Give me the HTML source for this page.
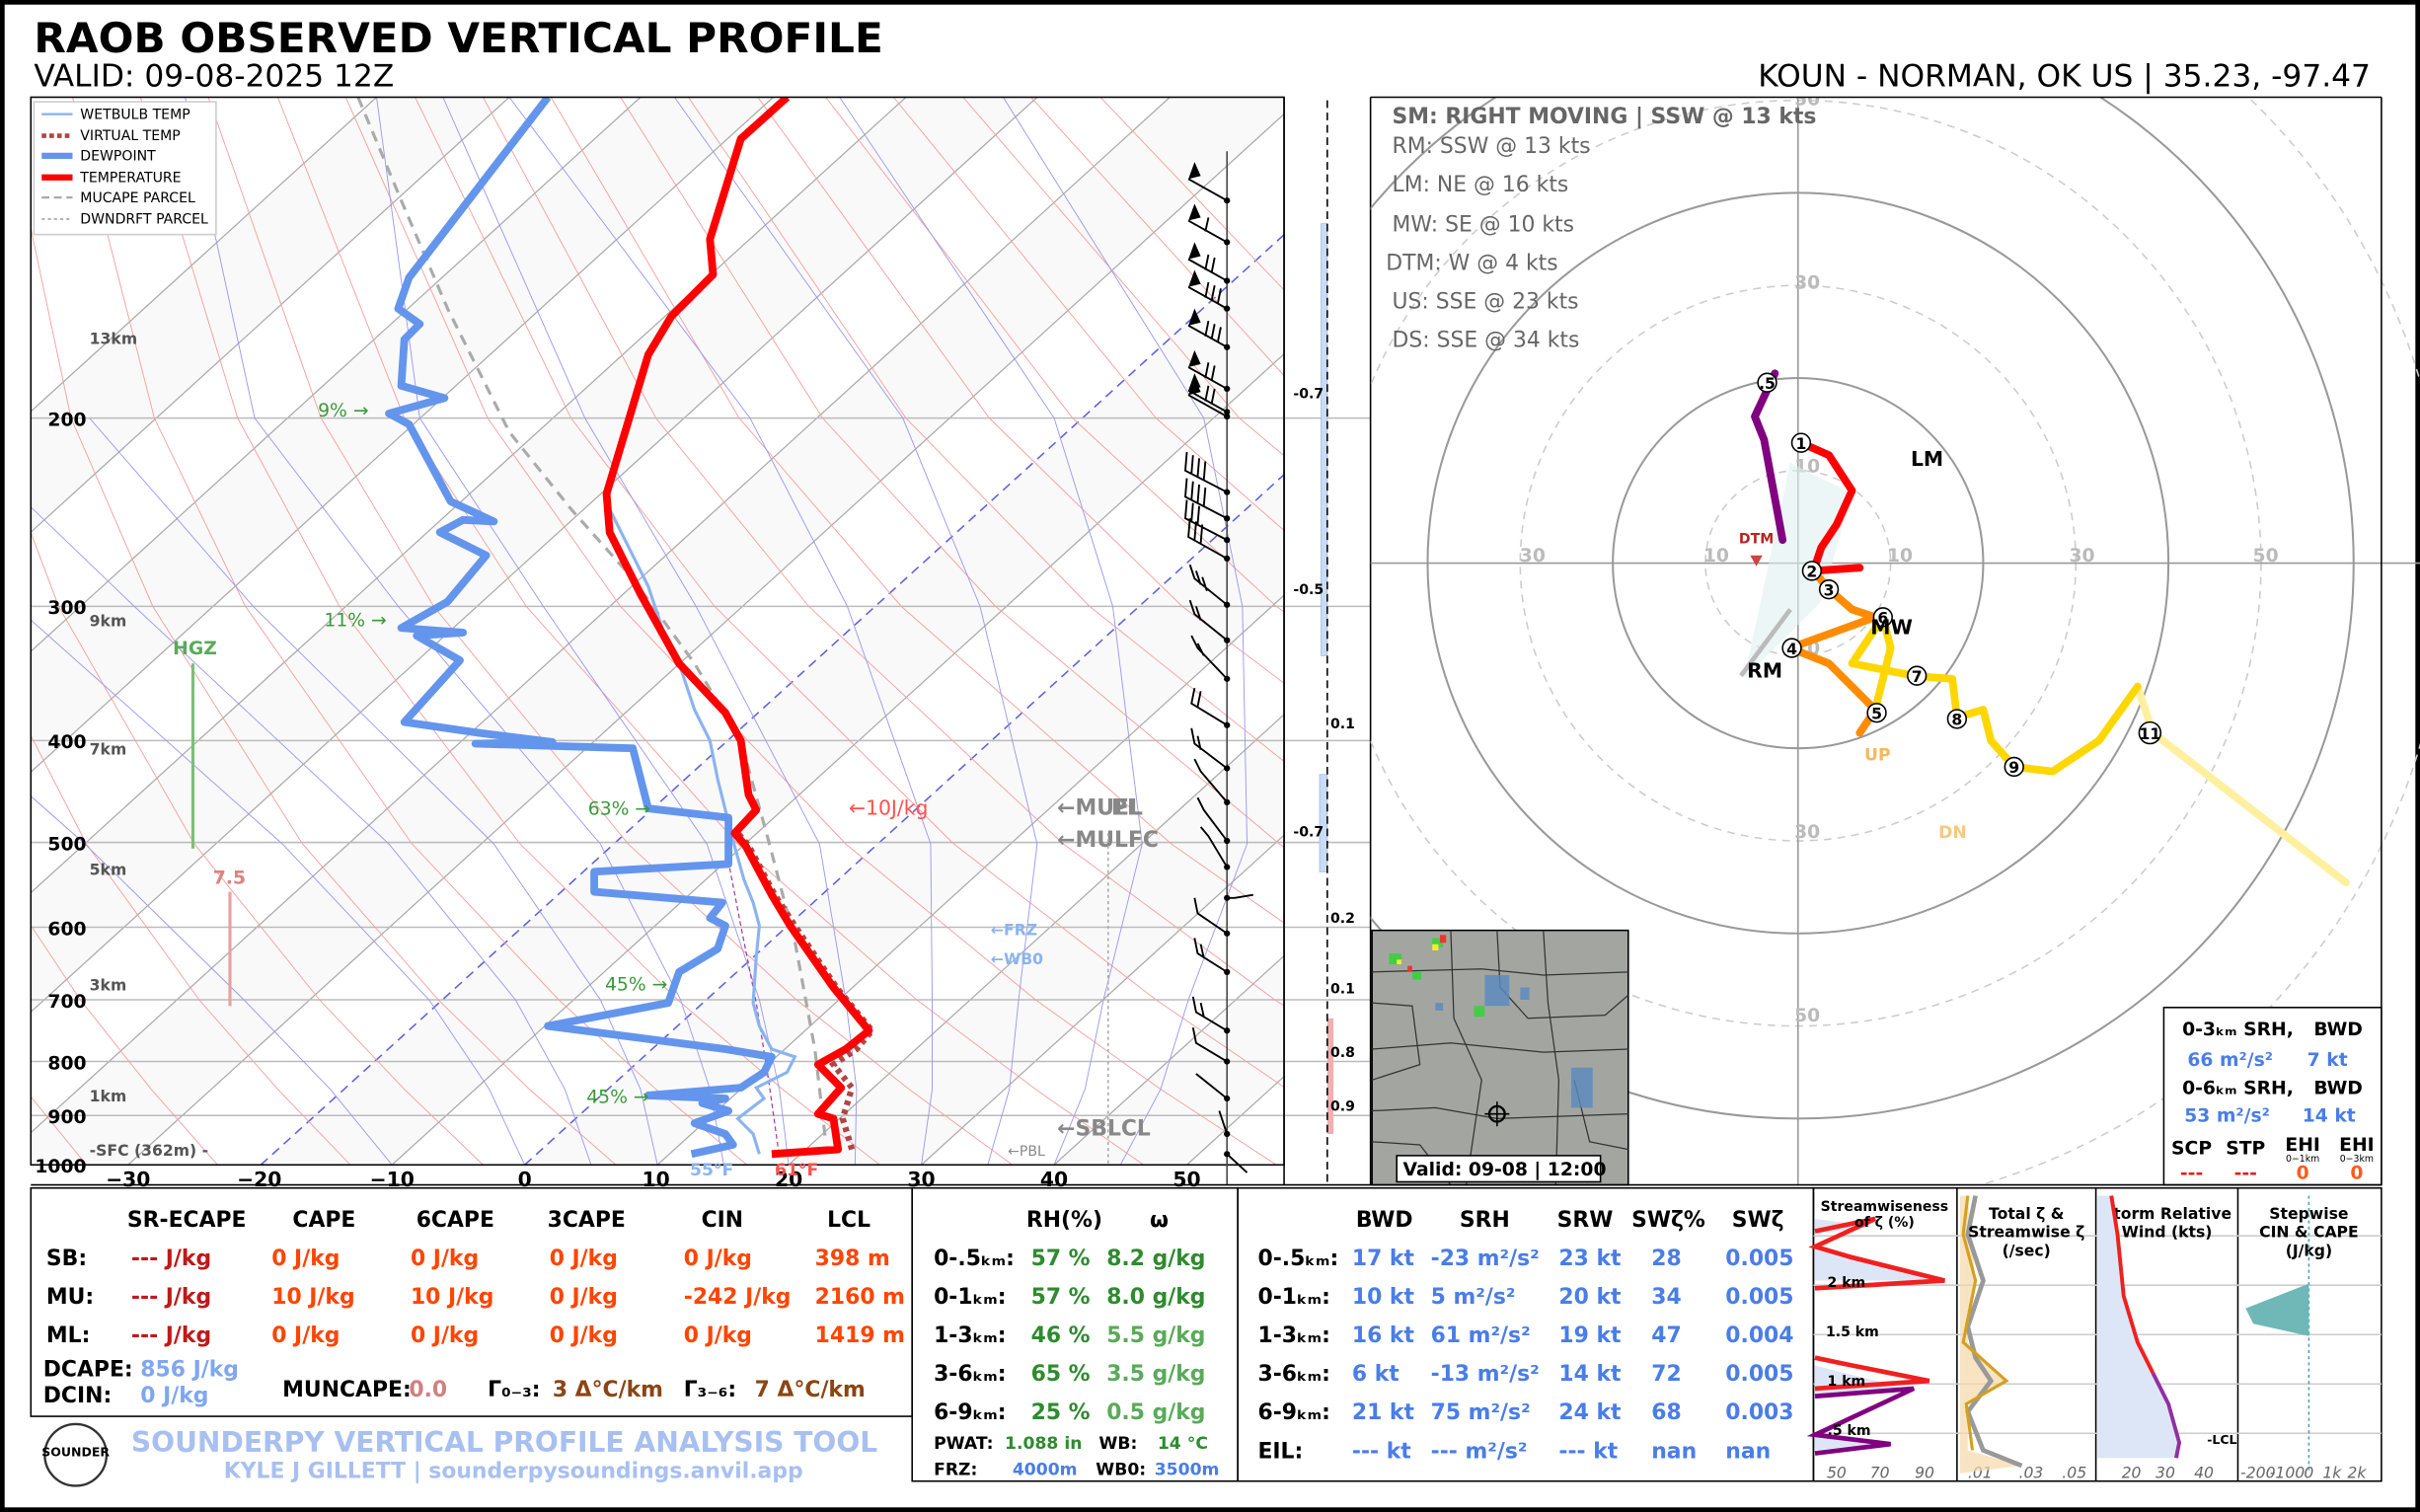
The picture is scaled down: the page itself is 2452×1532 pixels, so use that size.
<!DOCTYPE html>
<html><head><meta charset="utf-8"><style>
html,body{margin:0;padding:0;background:#fff}
svg{display:block}
text{font-family:"DejaVu Sans","Liberation Sans",sans-serif}
</style></head><body>
<svg width="2452" height="1532" viewBox="0 0 1568 980" preserveAspectRatio="none" xmlns="http://www.w3.org/2000/svg">
<rect x="0" y="0" width="1568" height="980" fill="#fff"/>
<rect x="1.5" y="1.5" width="1565" height="977" fill="none" stroke="#000" stroke-width="3"/>
<text x="22" y="34" font-size="27" font-weight="bold">RAOB OBSERVED VERTICAL PROFILE</text>
<text x="22" y="56" font-size="20">VALID: 09-08-2025 12Z</text>
<text x="1536" y="56" font-size="20" text-anchor="end">KOUN - NORMAN, OK US | 35.23, -97.47</text>

<defs>
<clipPath id="cs"><rect x="20" y="63" width="812" height="692"/></clipPath>
<clipPath id="ch"><rect x="888" y="63" width="680" height="705"/></clipPath>
</defs>
<g clip-path="url(#cs)">
<g fill="#f9f9f9">
<polygon points="-517,755 -431,755 330,63 244,63"/>
<polygon points="-346,755 -260,755 501,63 415,63"/>
<polygon points="-174,755 -89,755 672,63 587,63"/>
<polygon points="-3,755 83,755 844,63 758,63"/>
<polygon points="169,755 254,755 1015,63 930,63"/>
<polygon points="340,755 426,755 1187,63 1101,63"/>
<polygon points="511,755 597,755 1358,63 1272,63"/>
<polygon points="683,755 769,755 1530,63 1444,63"/>
</g>
<g stroke="#aaa" stroke-width="0.8">
<line x1="-517" y1="755" x2="244" y2="63"/><line x1="-431" y1="755" x2="330" y2="63"/><line x1="-346" y1="755" x2="415" y2="63"/><line x1="-260" y1="755" x2="501" y2="63"/><line x1="-174" y1="755" x2="587" y2="63"/><line x1="-89" y1="755" x2="672" y2="63"/><line x1="-3" y1="755" x2="758" y2="63"/><line x1="83" y1="755" x2="844" y2="63"/><line x1="254" y1="755" x2="1015" y2="63"/><line x1="426" y1="755" x2="1187" y2="63"/><line x1="511" y1="755" x2="1272" y2="63"/><line x1="597" y1="755" x2="1358" y2="63"/><line x1="683" y1="755" x2="1444" y2="63"/><line x1="769" y1="755" x2="1530" y2="63"/>
</g>
<g stroke="#6060e0" stroke-width="1" stroke-dasharray="6,4">
<line x1="169" y1="755" x2="930" y2="63"/><line x1="340" y1="755" x2="1101" y2="63"/>
</g>
<g stroke="#bbb" stroke-width="1">
<line x1="20" x2="832" y1="271" y2="271"/><line x1="20" x2="832" y1="393" y2="393"/><line x1="20" x2="832" y1="480" y2="480"/><line x1="20" x2="832" y1="546" y2="546"/><line x1="20" x2="832" y1="601" y2="601"/><line x1="20" x2="832" y1="648" y2="648"/><line x1="20" x2="832" y1="688" y2="688"/><line x1="20" x2="832" y1="723" y2="723"/>
</g>
<g fill="none" stroke="#f4a0a0" stroke-width="0.6">
<polyline points="56,755 16,706 -25,648 -85,547 -144,393 -171,271 -175,63"/>
<polyline points="141,755 98,706 52,648 -15,547 -84,393 -117,271 -131,63"/>
<polyline points="227,755 180,706 129,648 56,547 -23,393 -62,271 -87,63"/>
<polyline points="313,755 262,706 207,648 126,547 38,393 -8,271 -42,63"/>
<polyline points="399,755 343,706 284,648 196,547 99,393 46,271 2,63"/>
<polyline points="484,755 425,706 362,648 267,547 159,393 100,271 47,63"/>
<polyline points="570,755 507,706 439,648 337,547 220,393 154,271 91,63"/>
<polyline points="656,755 589,706 516,648 407,547 281,393 208,271 135,63"/>
<polyline points="741,755 671,706 594,648 478,547 341,393 262,271 180,63"/>
<polyline points="827,755 752,706 671,648 548,547 402,393 316,271 224,63"/>
<polyline points="913,755 834,706 749,648 618,547 463,393 370,271 269,63"/>
<polyline points="999,755 916,706 826,648 689,547 524,393 425,271 313,63"/>
<polyline points="1084,755 998,706 903,648 759,547 584,393 479,271 357,63"/>
<polyline points="1170,755 1080,706 981,648 829,547 645,393 533,271 402,63"/>
<polyline points="1058,648 899,547 706,393 587,271 446,63"/>
<polyline points="1135,648 970,547 766,393 641,271 491,63"/>
<polyline points="1040,547 827,393 695,271 535,63"/>
<polyline points="1110,547 888,393 749,271 579,63"/>
<polyline points="948,393 803,271 624,63"/>
<polyline points="1009,393 857,271 668,63"/>
<polyline points="1070,393 911,271 713,63"/>
</g>
<g fill="none" stroke="#9a9af0" stroke-width="0.6">
<polyline points="254,755 214,706 158,648 55,547 -119,393"/>
<polyline points="340,755 317,706 278,648 183,547 10,393"/>
<polyline points="383,755 366,706 334,648 252,547 87,393 -40,271"/>
<polyline points="426,755 415,706 389,648 320,547 164,393 58,271"/>
<polyline points="469,755 460,706 441,648 389,547 258,393 165,271 120,63"/>
<polyline points="511,755 505,706 492,648 458,547 352,393 272,271 244,63"/>
<polyline points="554,755 555,706 548,648 531,547 451,393 379,271 287,63"/>
<polyline points="597,755 604,706 604,648 603,547 549,393 486,271 330,63"/>
<polyline points="640,755 654,706 660,648 672,547 635,393 585,271 437,63"/>
<polyline points="683,755 703,706 715,648 740,547 721,393 683,271 544,63"/>
<polyline points="726,755 752,706 770,648 808,547 805,393 780,271 650,63"/>
</g>
<polyline fill="none" stroke="#aaa" stroke-width="2" stroke-dasharray="7,5" points="232,63 260,130 290,200 330,280 370,330 410,375 450,430 480,480 498,545 515,610 528,680 535,740"/>
<polyline fill="none" stroke="#a040a0" stroke-width="0.8" stroke-dasharray="3,2" points="470,548 480,600 490,650 498,700 505,750"/>
<polyline fill="none" stroke="#8ab4f0" stroke-width="2" points="492,748 488,735 478,725 495,712 490,705 510,695 515,685 500,680 492,665 488,650 490,620 492,600 488,585 482,570 475,545 465,505 460,480 450,460 440,430 430,410 420,380 405,350 395,330"/>
<polyline fill="none" stroke="#b04545" stroke-width="4" stroke-dasharray="3,3" points="552,745 546,725 552,705 540,690 555,680 565,668 542,640 515,600 502,580 485,548 478,540"/>
<polyline fill="none" stroke="#6495ed" stroke-width="5" stroke-linejoin="round" points="448,748 475,742 470,735 450,728 472,720 455,715 470,712 420,710 480,705 495,695 500,685 470,680 355,665 433,650 440,630 465,615 470,600 460,595 468,585 385,578 385,565 472,560 472,530 420,524 410,485 308,482 358,481 310,475 262,468 298,428 270,412 300,410 260,407 290,390 315,360 285,345 300,337 320,338 292,325 265,275 252,268 288,258 260,250 262,220 272,210 258,200 265,180 355,63"/>
<polyline fill="none" stroke="#ff0000" stroke-width="5" stroke-linejoin="round" points="500,748 543,745 540,725 530,722 545,705 530,690 548,680 563,668 540,640 512,600 500,580 483,548 476,540 490,525 485,515 480,480 470,462 440,430 415,385 395,345 393,320 420,230 435,205 455,185 462,178 460,155 480,90 510,63"/>
</g>
<rect x="20" y="63" width="812" height="692" fill="none" stroke="#000" stroke-width="1"/>
<g font-size="12" font-weight="bold" text-anchor="end">
<text x="56" y="276">200</text><text x="56" y="398">300</text><text x="56" y="485">400</text><text x="56" y="551">500</text><text x="56" y="606">600</text><text x="56" y="653">700</text><text x="56" y="693">800</text><text x="56" y="728">900</text><text x="56" y="760">1000</text>
</g>
<g font-size="13" font-weight="bold" text-anchor="middle">
<text x="83" y="769">−30</text><text x="168" y="769">−20</text><text x="254" y="769">−10</text><text x="340" y="769">0</text><text x="425" y="769">10</text><text x="511" y="769">20</text><text x="597" y="769">30</text><text x="683" y="769">40</text><text x="769" y="769">50</text>
</g>
<g font-size="10" fill="#555" font-weight="bold">
<text x="58" y="223">13km</text><text x="58" y="406">9km</text><text x="58" y="489">7km</text><text x="58" y="567">5km</text><text x="58" y="642">3km</text><text x="58" y="714">1km</text><text x="58" y="749">-SFC (362m) -</text>
</g>
<g font-size="12" fill="#3a9a3a">
<text x="206" y="270">9% →</text><text x="210" y="406">11% →</text><text x="381" y="528">63% →</text><text x="392" y="642">45% →</text><text x="380" y="715">45% →</text>
</g>
<text x="112" y="424" font-size="12" fill="#5aaa5a" font-weight="bold">HGZ</text>
<line x1="125" y1="430" x2="125" y2="550" stroke="#7ac07a" stroke-width="2"/>
<text x="138" y="573" font-size="12" fill="#e08080" font-weight="bold">7.5</text>
<line x1="149" y1="578" x2="149" y2="652" stroke="#e8a0a0" stroke-width="2"/>
<text x="550" y="528" font-size="13" fill="#ff5050">←10J/kg</text>
<g font-size="14" fill="#888" font-weight="bold"><text x="685" y="528">←MUEL</text><text x="720" y="528">PL</text><text x="685" y="549">←MULFC</text><text x="685" y="736">←SBLCL</text></g>
<g font-size="10" fill="#8ab4f0" font-weight="bold"><text x="642" y="606">←FRZ</text><text x="642" y="625">←WB0</text></g>
<text x="653" y="749" font-size="9" fill="#888">←PBL</text>
<line x1="718" y1="540" x2="718" y2="755" stroke="#aaa" stroke-dasharray="2,2"/>
<text x="447" y="762" font-size="11" fill="#8ab4f0" font-weight="bold">55°F</text>
<text x="502" y="762" font-size="11" fill="#ff5050" font-weight="bold">61°F</text>
<g font-size="9">
<rect x="22" y="66" width="118" height="86" fill="#fff" stroke="#ccc"/>
<line x1="27" y1="74" x2="47" y2="74" stroke="#8ab4f0" stroke-width="1.5"/><text x="52" y="77">WETBULB TEMP</text>
<line x1="27" y1="88" x2="47" y2="88" stroke="#b04545" stroke-width="3" stroke-dasharray="3,2"/><text x="52" y="91">VIRTUAL TEMP</text>
<line x1="27" y1="101" x2="47" y2="101" stroke="#6495ed" stroke-width="4"/><text x="52" y="104">DEWPOINT</text>
<line x1="27" y1="115" x2="47" y2="115" stroke="#ff0000" stroke-width="4"/><text x="52" y="118">TEMPERATURE</text>
<line x1="27" y1="128" x2="47" y2="128" stroke="#aaa" stroke-width="1.5" stroke-dasharray="5,3"/><text x="52" y="131">MUCAPE PARCEL</text>
<line x1="27" y1="142" x2="47" y2="142" stroke="#999" stroke-dasharray="2,2"/><text x="52" y="145">DWNDRFT PARCEL</text>
</g>
<line x1="795" y1="98" x2="795" y2="768" stroke="#444" stroke-width="1"/>
<g fill="#000">
<circle cx="795" cy="130" r="2"/><circle cx="795" cy="157" r="2"/><circle cx="795" cy="182" r="2"/><circle cx="795" cy="200" r="2"/><circle cx="795" cy="225" r="2"/><circle cx="795" cy="252" r="2"/><circle cx="795" cy="267" r="2"/><circle cx="795" cy="270" r="2"/><circle cx="795" cy="319" r="2"/><circle cx="795" cy="336" r="2"/><circle cx="795" cy="350" r="2"/><circle cx="795" cy="362" r="2"/><circle cx="795" cy="392" r="2"/><circle cx="795" cy="415" r="2"/><circle cx="795" cy="440" r="2"/><circle cx="795" cy="470" r="2"/><circle cx="795" cy="498" r="2"/><circle cx="795" cy="520" r="2"/><circle cx="795" cy="545" r="2"/><circle cx="795" cy="562" r="2"/><circle cx="795" cy="582" r="2"/><circle cx="795" cy="605" r="2"/><circle cx="795" cy="630" r="2"/><circle cx="795" cy="668" r="2"/><circle cx="795" cy="688" r="2"/><circle cx="795" cy="712" r="2"/><circle cx="795" cy="735" r="2"/><circle cx="795" cy="748" r="2"/>
<polygon points="770,116 774,105 778,114"/><polygon points="770,143 774,132 778,141"/><polygon points="770,168 774,157 778,166"/><polygon points="770,186 774,175 778,184"/><polygon points="770,211 774,200 778,209"/><polygon points="770,238 774,227 778,236"/><polygon points="770,253 774,242 778,251"/><polygon points="770,256 774,245 778,254"/>
</g>
<g stroke="#000" stroke-width="1.2" fill="none">
<path d="M795,130 L770,116 M795,157 L770,143 M781,150 l2,-9 M795,182 L770,168 M781,175 l2,-10 M785,177 l2,-10 M795,200 L770,186 M781,193 l2,-10 M785,195 l2,-10 M789,197 l2,-10 M795,225 L770,211 M781,218 l2,-10 M785,220 l2,-10 M789,222 l2,-10 M795,252 L770,238 M781,245 l2,-10 M785,247 l2,-10 M795,267 L770,253 M781,260 l2,-10 M795,270 L770,256 M785,262 l2,-10"/>
<path d="M795,319 L768,305 l1,-12 M772,307 l1,-12 M776,309 l1,-12 M780,311 l1,-12 M795,336 L768,322 l1,-12 M772,324 l1,-12 M776,326 l1,-12 M780,328 l1,-12 M795,350 L768,336 l1,-12 M772,338 l1,-12 M776,340 l1,-12 M795,362 L770,348 l1,-12 M774,350 l1,-12 M778,352 l1,-12"/>
<path d="M795,392 L774,375 l-3,-9 M778,379 l-3,-9 M782,383 l-3,-9 M795,415 L774,398 l-3,-9 M778,402 l-3,-9 M795,440 L776,420 l-4,-8 M780,425 l-4,-8 M795,470 L772,456 l2,-10 M776,458 l2,-10 M795,498 L774,482 l-2,-10 M778,486 l-2,-9 M795,520 L778,500 l-4,-8 M795,545 L780,525 l-4,-8 M795,562 L783,542 l-5,-6 M795,582 L800,582 L812,580"/>
<path d="M795,605 L776,592 l-2,-10 M795,630 L776,618 l-2,-10 M780,621 l-2,-9 M795,668 L775,656 l-2,-10 M780,659 l-2,-9 M795,688 L775,676 l-2,-10 M795,712 L780,700 l-5,-4 M795,735 L790,720 M795,748 L808,760"/>
</g>

<g stroke="#bbb"><line x1="832" y1="271" x2="888" y2="271"/><line x1="832" y1="393" x2="888" y2="393"/><line x1="832" y1="480" x2="888" y2="480"/><line x1="832" y1="546" x2="888" y2="546"/><line x1="832" y1="601" x2="888" y2="601"/><line x1="832" y1="648" x2="888" y2="648"/><line x1="832" y1="688" x2="888" y2="688"/><line x1="832" y1="723" x2="888" y2="723"/></g>
<rect x="856" y="145" width="4" height="280" fill="#c8dcf5" stroke="#a0b8e0" stroke-width="0.5"/>
<rect x="855" y="502" width="5" height="63" fill="#c8dcf5" stroke="#a0b8e0" stroke-width="0.5"/>
<rect x="860" y="660" width="4" height="75" fill="#f0b0b0"/>
<line x1="860" y1="65" x2="860" y2="768" stroke="#000" stroke-dasharray="5,3"/>
<g font-size="9" font-weight="bold"><text x="838" y="258">-0.7</text><text x="838" y="385">-0.5</text><text x="862" y="472">0.1</text><text x="838" y="542">-0.7</text><text x="862" y="598">0.2</text><text x="862" y="644">0.1</text><text x="862" y="685">0.8</text><text x="862" y="720">0.9</text></g>
<line x1="832" y1="63" x2="832" y2="768" stroke="#000"/>
<line x1="888" y1="63" x2="888" y2="768" stroke="#000"/>

<g clip-path="url(#ch)">
<g fill="none">
<circle cx="1165" cy="365" r="60" stroke="#ccc" stroke-dasharray="5,4"/>
<circle cx="1165" cy="365" r="120" stroke="#999" stroke-width="1.3"/>
<circle cx="1165" cy="365" r="180" stroke="#ccc" stroke-dasharray="5,4"/>
<circle cx="1165" cy="365" r="240" stroke="#999" stroke-width="1.3"/>
<circle cx="1165" cy="365" r="300" stroke="#ccc" stroke-dasharray="5,4"/>
<circle cx="1165" cy="365" r="360" stroke="#999" stroke-width="1.3"/>
<circle cx="1165" cy="365" r="420" stroke="#ccc" stroke-dasharray="5,4"/>
</g>
<line x1="888" y1="365" x2="1568" y2="365" stroke="#999"/>
<line x1="1165" y1="63" x2="1165" y2="768" stroke="#999"/>
<g font-size="12" fill="#bbb" font-weight="bold" text-anchor="middle"><text x="1112" y="364">10</text><text x="1231" y="364">10</text><text x="993" y="364">30</text><text x="1349" y="364">30</text><text x="1468" y="364">50</text><text x="1171" y="187">30</text><text x="1171" y="543">30</text><text x="1171" y="662">50</text><text x="1171" y="306">10</text><text x="1171" y="424">10</text><text x="1171" y="68">50</text></g>
<polygon points="1130,440 1160,300 1200,320 1180,390" fill="#e0f0f0" opacity="0.6"/>
<line x1="1160" y1="395" x2="1128" y2="438" stroke="#bbb" stroke-width="3"/>
<g fill="none" stroke-width="5" stroke-linejoin="round" stroke-linecap="round">
<polyline stroke="#fff0a0" points="1385,445 1395,475 1520,572"/>
<polyline stroke="#ffd700" points="1215,460 1225,420 1220,400 1200,430 1240,438 1265,440 1268,465 1285,460 1290,480 1305,497 1330,500 1360,480 1385,445"/>
<polyline stroke="#ff8c00" points="1175,370 1185,382 1200,395 1215,400 1160,420 1185,430 1200,445 1215,460 1205,475"/>
<polyline stroke="#ff0000" points="1167,287 1185,295 1200,318 1190,340 1180,355 1175,370 1205,368"/>
<polyline stroke="#800080" points="1150,242 1137,270 1143,285 1155,350"/>
</g>
<g font-size="10" font-weight="bold" text-anchor="middle">
<circle cx="1145" cy="248" r="6" fill="#fff" stroke="#000"/><text x="1145" y="252">.5</text>
<circle cx="1167" cy="287" r="6" fill="#fff" stroke="#000"/><text x="1167" y="291">1</text>
<circle cx="1174" cy="370" r="6" fill="#fff" stroke="#000"/><text x="1174" y="374">2</text>
<circle cx="1185" cy="382" r="6" fill="#fff" stroke="#000"/><text x="1185" y="386">3</text>
<circle cx="1161" cy="420" r="6" fill="#fff" stroke="#000"/><text x="1161" y="424">4</text>
<circle cx="1216" cy="462" r="6" fill="#fff" stroke="#000"/><text x="1216" y="466">5</text>
<circle cx="1220" cy="400" r="6" fill="#fff" stroke="#000"/><text x="1220" y="404">6</text>
<circle cx="1242" cy="438" r="6" fill="#fff" stroke="#000"/><text x="1242" y="442">7</text>
<circle cx="1268" cy="466" r="6" fill="#fff" stroke="#000"/><text x="1268" y="470">8</text>
<circle cx="1305" cy="497" r="6" fill="#fff" stroke="#000"/><text x="1305" y="501">9</text>
<circle cx="1393" cy="475" r="7" fill="#fff" stroke="#000"/><text x="1393" y="479">11</text>
</g>
<g font-size="13" font-weight="bold"><text x="1238" y="302">LM</text><text x="1212" y="411">MW</text><text x="1132" y="439">RM</text></g>
<text x="1138" y="352" font-size="9" fill="#b22" font-weight="bold" text-anchor="middle">DTM</text>
<polygon points="1134,360 1142,360 1138,367" fill="#c44"/>
<text x="1208" y="493" font-size="11" fill="#f5b860" font-weight="bold">UP</text>
<text x="1256" y="543" font-size="11" fill="#f5c880" font-weight="bold">DN</text>
</g>
<g font-size="14" fill="#666">
<text x="902" y="80" font-weight="bold">SM: RIGHT MOVING | SSW @ 13 kts</text>
<text x="902" y="99">RM: SSW @ 13 kts</text><text x="902" y="124">LM: NE @ 16 kts</text><text x="902" y="150">MW: SE @ 10 kts</text><text x="898" y="175">DTM: W @ 4 kts</text><text x="902" y="200">US: SSE @ 23 kts</text><text x="902" y="225">DS: SSE @ 34 kts</text>
</g>
<line x1="888" y1="63" x2="1543" y2="63" stroke="#000"/>
<line x1="1543" y1="63" x2="1543" y2="768" stroke="#000"/>
<rect x="889" y="603" width="166" height="165" fill="#a3a6a0" stroke="#000"/>
<g stroke="#333" stroke-width="0.8" fill="none">
<polyline points="889,630 960,628 1000,632 1055,630"/><polyline points="889,680 940,676 1000,682 1055,680"/><polyline points="940,603 942,660 960,700 950,768"/><polyline points="1000,603 1003,650 1010,700 1008,768"/><polyline points="889,720 930,718 970,725 1055,722"/><polyline points="889,650 915,652 920,690 889,700"/><polyline points="970,603 972,640 990,660 1040,658 1055,645"/><polyline points="889,740 920,742 940,768"/><polyline points="1020,700 1030,740 1055,745"/>
</g>
<g fill="#5a8ac0" opacity="0.8"><rect x="962" y="632" width="16" height="20"/><rect x="1018" y="692" width="14" height="26"/><rect x="985" y="640" width="6" height="8"/><rect x="930" y="650" width="5" height="5"/></g>
<g fill="#4c4"><rect x="900" y="618" width="8" height="7"/><rect x="928" y="608" width="7" height="6"/><rect x="955" y="652" width="7" height="7"/><rect x="915" y="630" width="6" height="5"/></g>
<g fill="#e33"><rect x="933" y="606" width="4" height="5"/><rect x="912" y="626" width="3" height="4"/></g>
<g fill="#ee3"><rect x="928" y="612" width="4" height="4"/><rect x="905" y="622" width="3" height="3"/></g>
<circle cx="970" cy="722" r="5" fill="none" stroke="#000" stroke-width="1.5"/><line x1="962" y1="722" x2="978" y2="722" stroke="#000"/><line x1="970" y1="714" x2="970" y2="730" stroke="#000"/>
<rect x="905" y="749" width="132" height="17" fill="#fff" stroke="#000"/>
<text x="909" y="762" font-size="12" font-weight="bold">Valid: 09-08 | 12:00</text>
<rect x="1402" y="653" width="141" height="115" fill="#fff" stroke="#000"/>
<g font-size="12" font-weight="bold" text-anchor="middle">
<text x="1450" y="671">0-3ₖₘ SRH,</text><text x="1515" y="671">BWD</text>
<text x="1445" y="691" fill="#4a7de8">66 m²/s²</text><text x="1508" y="691" fill="#4a7de8">7 kt</text>
<text x="1450" y="709">0-6ₖₘ SRH,</text><text x="1515" y="709">BWD</text>
<text x="1443" y="727" fill="#4a7de8">53 m²/s²</text><text x="1509" y="727" fill="#4a7de8">14 kt</text>
<text x="1420" y="748">SCP</text><text x="1455" y="748">STP</text><text x="1492" y="746">EHI</text><text x="1527" y="746">EHI</text>
<text x="1420" y="764" fill="#d22">---</text><text x="1455" y="764" fill="#d22">---</text><text x="1492" y="764" fill="#ff5a1e">0</text><text x="1527" y="764" fill="#ff5a1e">0</text>
</g>
<g font-size="6" text-anchor="middle"><text x="1492" y="753">0−1km</text><text x="1527" y="753">0−3km</text></g>

<line x1="20" y1="768" x2="1543" y2="768" stroke="#000"/>
<rect x="20" y="770" width="571" height="148" fill="none" stroke="#000"/>
<rect x="591" y="770" width="211" height="190" fill="none" stroke="#000"/>
<rect x="802" y="770" width="373" height="190" fill="none" stroke="#000"/>
<rect x="1175" y="770" width="368" height="190" fill="none" stroke="#000"/>
<g font-size="14" font-weight="bold">
<g text-anchor="middle"><text x="121" y="795">SR-ECAPE</text><text x="210" y="795">CAPE</text><text x="295" y="795">6CAPE</text><text x="380" y="795">3CAPE</text><text x="468" y="795">CIN</text><text x="550" y="795">LCL</text></g>
<text x="30" y="820">SB:</text><text x="30" y="845">MU:</text><text x="30" y="870">ML:</text>
<g fill="#c01818"><text x="85" y="820">--- J/kg</text><text x="85" y="845">--- J/kg</text><text x="85" y="870">--- J/kg</text></g>
<g fill="#ff4500">
<text x="176" y="820">0 J/kg</text><text x="266" y="820">0 J/kg</text><text x="356" y="820">0 J/kg</text><text x="443" y="820">0 J/kg</text><text x="528" y="820">398 m</text>
<text x="176" y="845">10 J/kg</text><text x="266" y="845">10 J/kg</text><text x="356" y="845">0 J/kg</text><text x="443" y="845">-242 J/kg</text><text x="528" y="845">2160 m</text>
<text x="176" y="870">0 J/kg</text><text x="266" y="870">0 J/kg</text><text x="356" y="870">0 J/kg</text><text x="443" y="870">0 J/kg</text><text x="528" y="870">1419 m</text>
</g>
<text x="28" y="892">DCAPE:</text><text x="91" y="892" fill="#7fa7ee">856 J/kg</text>
<text x="28" y="909">DCIN:</text><text x="91" y="909" fill="#7fa7ee">0 J/kg</text>
<text x="183" y="905">MUNCAPE:</text><text x="265" y="905" fill="#d08080">0.0</text>
<text x="316" y="905">Γ₀₋₃:</text><text x="358" y="905" fill="#8b4513">3 Δ°C/km</text>
<text x="443" y="905">Γ₃₋₆:</text><text x="489" y="905" fill="#8b4513">7 Δ°C/km</text>
</g>
<circle cx="49" cy="943" r="20" fill="#fff" stroke="#333" stroke-width="1.5"/>
<text x="49" y="944" font-size="8" text-anchor="middle" font-weight="bold">SOUNDER</text>
<text x="85" y="941" font-size="18" font-weight="bold" fill="#a8c0f0">SOUNDERPY VERTICAL PROFILE ANALYSIS TOOL</text>
<text x="145" y="958" font-size="14" font-weight="bold" fill="#a8c0f0">KYLE J GILLETT | sounderpysoundings.anvil.app</text>
<g font-size="14" font-weight="bold">
<text x="665" y="795">RH(%)</text><text x="745" y="795">ω</text>
<text x="605" y="820">0-.5ₖₘ:</text><text x="605" y="845">0-1ₖₘ:</text><text x="605" y="870">1-3ₖₘ:</text><text x="605" y="895">3-6ₖₘ:</text><text x="605" y="920">6-9ₖₘ:</text>
<g fill="#2e8b2e"><text x="668" y="820">57 %</text><text x="668" y="845">57 %</text><text x="668" y="870">46 %</text><text x="668" y="895">65 %</text><text x="668" y="920">25 %</text><text x="717" y="820">8.2 g/kg</text><text x="717" y="845">8.0 g/kg</text></g>
<g fill="#5aaa5a"><text x="717" y="870">5.5 g/kg</text><text x="717" y="895">3.5 g/kg</text><text x="717" y="920">0.5 g/kg</text></g>
</g>
<g font-size="11" font-weight="bold">
<text x="605" y="939">PWAT:</text><text x="651" y="939" fill="#2e8b2e">1.088 in</text><text x="712" y="939">WB:</text><text x="750" y="939" fill="#2e8b2e">14 °C</text>
<text x="605" y="956">FRZ:</text><text x="656" y="956" fill="#4a7de8">4000m</text><text x="710" y="956">WB0:</text><text x="748" y="956" fill="#4a7de8">3500m</text>
</g>
<g font-size="14" font-weight="bold">
<g text-anchor="middle"><text x="897" y="795">BWD</text><text x="962" y="795">SRH</text><text x="1027" y="795">SRW</text><text x="1081" y="795">SWζ%</text><text x="1139" y="795">SWζ</text></g>
<text x="815" y="820">0-.5ₖₘ:</text><text x="815" y="845">0-1ₖₘ:</text><text x="815" y="870">1-3ₖₘ:</text><text x="815" y="895">3-6ₖₘ:</text><text x="815" y="920">6-9ₖₘ:</text><text x="815" y="945">EIL:</text>
<g fill="#4a7de8">
<text x="876" y="820">17 kt</text><text x="927" y="820">-23 m²/s²</text><text x="1010" y="820">23 kt</text><text x="1070" y="820">28</text><text x="1118" y="820">0.005</text>
<text x="876" y="845">10 kt</text><text x="927" y="845">5 m²/s²</text><text x="1010" y="845">20 kt</text><text x="1070" y="845">34</text><text x="1118" y="845">0.005</text>
<text x="876" y="870">16 kt</text><text x="927" y="870">61 m²/s²</text><text x="1010" y="870">19 kt</text><text x="1070" y="870">47</text><text x="1118" y="870">0.004</text>
<text x="876" y="895">6 kt</text><text x="927" y="895">-13 m²/s²</text><text x="1010" y="895">14 kt</text><text x="1070" y="895">72</text><text x="1118" y="895">0.005</text>
<text x="876" y="920">21 kt</text><text x="927" y="920">75 m²/s²</text><text x="1010" y="920">24 kt</text><text x="1070" y="920">68</text><text x="1118" y="920">0.003</text>
<text x="876" y="945">--- kt</text><text x="927" y="945">--- m²/s²</text><text x="1010" y="945">--- kt</text><text x="1070" y="945">nan</text><text x="1118" y="945">nan</text>
</g></g>
<g>
<line x1="1268" y1="770" x2="1268" y2="960" stroke="#000"/><line x1="1358" y1="770" x2="1358" y2="960" stroke="#000"/><line x1="1450" y1="770" x2="1450" y2="960" stroke="#000"/>
<g stroke="#ccc"><line x1="1175" y1="801" x2="1543" y2="801"/><line x1="1175" y1="833" x2="1543" y2="833"/><line x1="1175" y1="865" x2="1543" y2="865"/><line x1="1175" y1="897" x2="1543" y2="897"/><line x1="1175" y1="929" x2="1543" y2="929"/></g>
<polygon points="1176,790 1215,795 1176,800" fill="#dde6f7"/>
<polygon points="1176,810 1260,830 1176,830" fill="#dde6f7"/>
<polygon points="1176,885 1235,900 1176,905" fill="#dde6f7"/>
<polygon points="1176,930 1225,935 1176,940" fill="#dde6f7"/>
<polyline fill="none" stroke="#f02020" stroke-width="3" points="1176,798 1215,790 1176,808 1200,815 1260,830 1176,835"/>
<polyline fill="none" stroke="#f02020" stroke-width="3" points="1176,880 1200,885 1250,895 1176,900"/>
<polyline fill="none" stroke="#800080" stroke-width="3" points="1176,905 1240,900 1176,930 1225,936 1176,942"/>
<text x="1221" y="785" font-size="9" font-weight="bold" text-anchor="middle">Streamwiseness</text><text x="1221" y="795" font-size="9" font-weight="bold" text-anchor="middle">of ζ (%)</text>
<g font-size="9" font-weight="bold"><text x="1184" y="834">2 km</text><text x="1183" y="866">1.5 km</text><text x="1184" y="898">1 km</text><text x="1184" y="930">.5 km</text></g>
<g font-size="10" fill="#666" text-anchor="middle" font-style="italic"><text x="1190" y="958">50</text><text x="1218" y="958">70</text><text x="1247" y="958">90</text><text x="1283" y="958">.01</text><text x="1316" y="958">.03</text><text x="1344" y="958">.05</text><text x="1381" y="958">20</text><text x="1403" y="958">30</text><text x="1428" y="958">40</text><text x="1463" y="958">-200</text><text x="1482" y="958">-100</text><text x="1496" y="958">0</text><text x="1511" y="958">1k</text><text x="1527" y="958">2k</text></g>
<polygon points="1275,775 1280,830 1275,870 1300,895 1275,910 1275,940 1310,950 1270,955 1270,775" fill="#f5d9a8" opacity="0.7"/>
<polyline fill="none" stroke="#999" stroke-width="3" points="1280,775 1275,800 1285,830 1275,860 1280,880 1290,895 1275,915 1285,940 1310,950"/>
<polyline fill="none" stroke="#d4a020" stroke-width="2" points="1275,775 1272,800 1280,830 1272,870 1300,895 1274,910 1278,940"/>
<g font-size="10" font-weight="bold" text-anchor="middle"><text x="1313" y="790">Total ζ &amp;</text><text x="1313" y="802">Streamwise ζ</text><text x="1313" y="814">(/sec)</text>
<text x="1404" y="790">Storm Relative</text><text x="1404" y="802">Wind (kts)</text>
<text x="1496" y="790">Stepwise</text><text x="1496" y="802">CIN &amp; CAPE</text><text x="1496" y="814">(J/kg)</text></g>
<polygon points="1359,775 1370,775 1375,840 1385,870 1400,900 1410,930 1412,945 1359,945" fill="#dde6f7"/>
<polyline fill="none" stroke="#f02020" stroke-width="2.5" points="1368,775 1372,800 1376,840 1385,870 1395,890"/>
<polyline fill="none" stroke="#9030a0" stroke-width="2.5" points="1395,890 1405,910 1412,935 1410,945"/>
<text x="1430" y="936" font-size="8" font-weight="bold">-LCL</text>
<line x1="1496" y1="775" x2="1496" y2="955" stroke="#4aa0c0" stroke-dasharray="2,2"/>
<polygon points="1455,848 1496,832 1496,866 1460,858" fill="#70b8b8"/>
</g>
</svg>
</body></html>
